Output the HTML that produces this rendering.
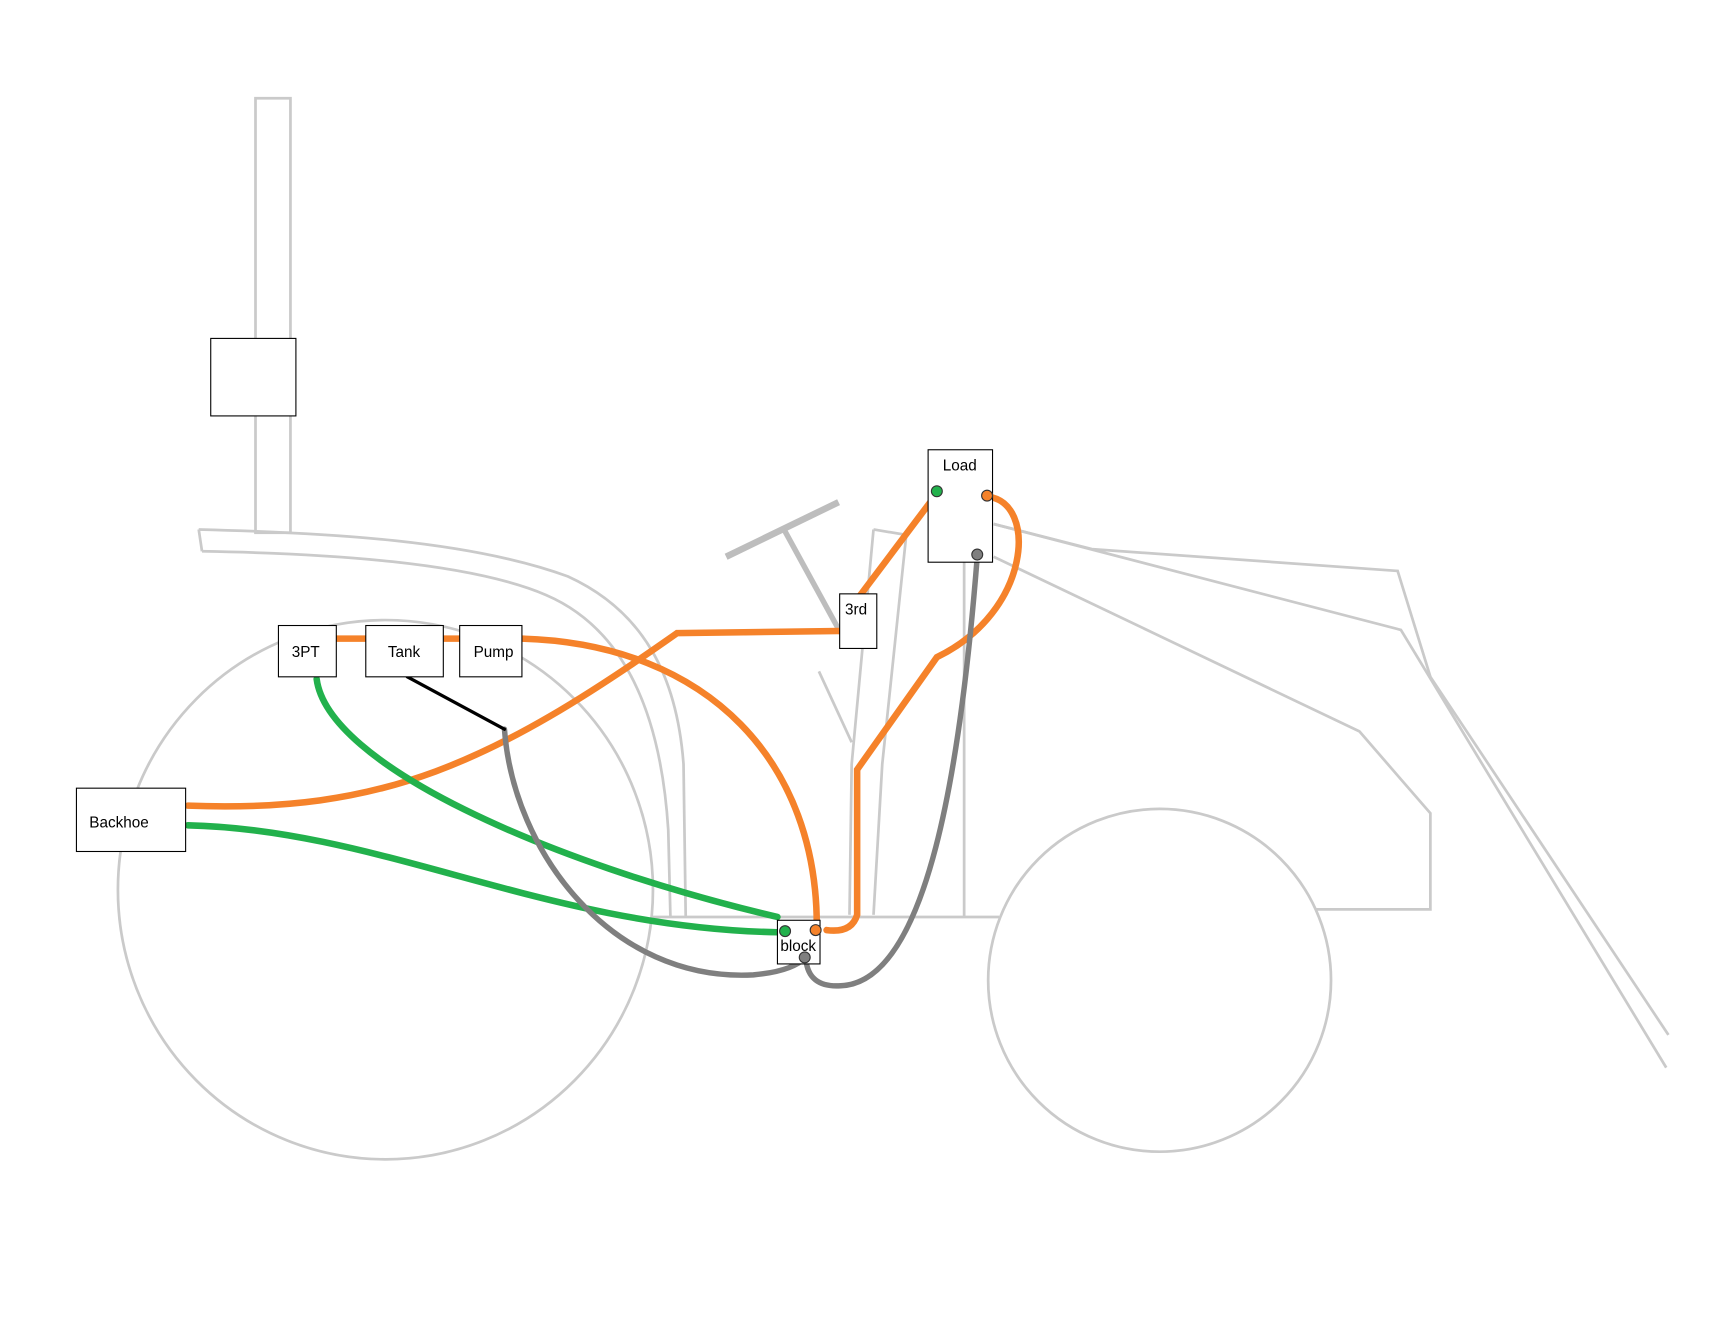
<!DOCTYPE html>
<html><head><style>html,body{margin:0;padding:0;background:#fff}svg{display:block}</style></head><body>
<svg width="1711" height="1334" viewBox="0 0 1567 1222" preserveAspectRatio="none" xmlns="http://www.w3.org/2000/svg" font-family="Liberation Sans, sans-serif">
<g fill="none" stroke="#cacaca" stroke-width="2.5">
<rect x="234" y="90" width="32" height="398" fill="#fff"/>
<path d="M182,485 L185,505"/>
<path d="M182,485 C300,488 430,495 520,528 C590,560 620,620 626,700 L628,840"/>
<path d="M185,505 C300,507 430,515 500,545 C570,575 605,650 612,760 L614,840"/>
<ellipse cx="353" cy="815" rx="245" ry="247"/>
<circle cx="1062" cy="898" r="157"/>
<path d="M598,840 L915,840"/>
<path d="M883,515 L883,840"/>
<path d="M910,480 L1000,503 L1280,523 L1310,620 L1528,948"/>
<path d="M910,480 L1283,577 L1526,978"/>
<path d="M910,510 L1245,670 L1310,745 L1310,833 L1205,833"/>
<path d="M800,485 L830,490 L808,700 L800,838"/>
<path d="M800,485 L780,700 L778,838"/>
<path d="M750,615 L780,680"/>
</g>
<path d="M665,510 L768,460" stroke="#bdbdbd" stroke-width="6"/>
<path d="M718,485 L770,580" stroke="#bdbdbd" stroke-width="5"/>
<rect x="193" y="310" width="78" height="71" fill="#fff" stroke="#000"/>
<g fill="none" stroke-linecap="round">
<path d="M308,585 L335,585 M406,585 L421,585" stroke="#f5822a" stroke-width="6"/>
<path d="M478,585 C650,590 750,700 748,852" stroke="#f5822a" stroke-width="6"/>
<path d="M172,738 C350,745 450,700 620,580 L768,578" stroke="#f5822a" stroke-width="6"/>
<path d="M788,545 L858,452" stroke="#f5822a" stroke-width="6"/>
<path d="M905,455 C950,460 945,560 858,602 L785,705 L785,838 Q780,855 757,852" stroke="#f5822a" stroke-width="6"/>
<path d="M290,622 C300,700 500,790 712,840" stroke="#22b14c" stroke-width="6"/>
<path d="M172,756 C350,760 500,850 712,854" stroke="#22b14c" stroke-width="6"/>
<path d="M462,668 C470,780 560,900 690,893 Q725,890 738,877" stroke="#7f7f7f" stroke-width="5"/>
<path d="M895,510 C880,700 850,900 770,903 Q740,905 738,878" stroke="#7f7f7f" stroke-width="5"/>
<path d="M373,620 L462,668" stroke="#000" stroke-width="3"/>
</g>
<g fill="#fff" stroke="#000" stroke-width="1">
<rect x="255" y="573" width="53" height="47"/>
<rect x="335" y="573" width="71" height="47"/>
<rect x="421" y="573" width="57" height="47"/>
<rect x="70" y="722" width="100" height="58"/>
<rect x="850" y="412" width="59" height="103"/>
<rect x="769" y="544" width="34" height="50"/>
<rect x="712" y="843" width="39" height="40"/>
</g>
<g font-size="14" fill="#000" text-anchor="middle">
<text x="280" y="602">3PT</text>
<text x="370" y="602">Tank</text>
<text x="452" y="602">Pump</text>
<text x="109" y="758">Backhoe</text>
<text x="879" y="431">Load</text>
<text x="784" y="563">3rd</text>
<text x="731" y="871">block</text>
</g>
<g stroke="#333" stroke-width="1">
<circle cx="719" cy="853" r="5" fill="#22b14c"/>
<circle cx="747" cy="852" r="5" fill="#f5822a"/>
<circle cx="737" cy="877" r="5" fill="#7f7f7f"/>
<circle cx="858" cy="450" r="5" fill="#22b14c"/>
<circle cx="904" cy="454" r="5" fill="#f5822a"/>
<circle cx="895" cy="508" r="5" fill="#7f7f7f"/>
</g>
</svg>
</body></html>
